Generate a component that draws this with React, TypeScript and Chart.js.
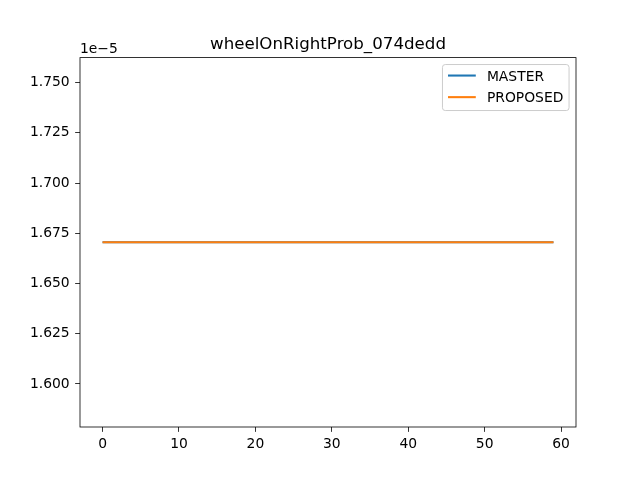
import { useEffect, useRef } from "react";
import { Chart, registerables } from "chart.js";

Chart.register(...registerables);

const titleText = "wheelOnRightProb_074dedd";
const offsetText = "1e\u22125";
const offsetScale = 1e-5;

const xValues = [
  0, 1, 2, 3, 4, 5, 6, 7, 8, 9, 10, 11, 12, 13, 14, 15, 16, 17, 18, 19,
  20, 21, 22, 23, 24, 25, 26, 27, 28, 29, 30, 31, 32, 33, 34, 35, 36, 37, 38, 39,
  40, 41, 42, 43, 44, 45, 46, 47, 48, 49, 50, 51, 52, 53, 54, 55, 56, 57, 58, 59,
];

const masterValues = [
  1.6705e-5, 1.6705e-5, 1.6705e-5, 1.6705e-5, 1.6705e-5, 1.6705e-5, 1.6705e-5, 1.6705e-5, 1.6705e-5, 1.6705e-5,
  1.6705e-5, 1.6705e-5, 1.6705e-5, 1.6705e-5, 1.6705e-5, 1.6705e-5, 1.6705e-5, 1.6705e-5, 1.6705e-5, 1.6705e-5,
  1.6705e-5, 1.6705e-5, 1.6705e-5, 1.6705e-5, 1.6705e-5, 1.6705e-5, 1.6705e-5, 1.6705e-5, 1.6705e-5, 1.6705e-5,
  1.6705e-5, 1.6705e-5, 1.6705e-5, 1.6705e-5, 1.6705e-5, 1.6705e-5, 1.6705e-5, 1.6705e-5, 1.6705e-5, 1.6705e-5,
  1.6705e-5, 1.6705e-5, 1.6705e-5, 1.6705e-5, 1.6705e-5, 1.6705e-5, 1.6705e-5, 1.6705e-5, 1.6705e-5, 1.6705e-5,
  1.6705e-5, 1.6705e-5, 1.6705e-5, 1.6705e-5, 1.6705e-5, 1.6705e-5, 1.6705e-5, 1.6705e-5, 1.6705e-5, 1.6705e-5,
];

const proposedValues = [
  1.6705e-5, 1.6705e-5, 1.6705e-5, 1.6705e-5, 1.6705e-5, 1.6705e-5, 1.6705e-5, 1.6705e-5, 1.6705e-5, 1.6705e-5,
  1.6705e-5, 1.6705e-5, 1.6705e-5, 1.6705e-5, 1.6705e-5, 1.6705e-5, 1.6705e-5, 1.6705e-5, 1.6705e-5, 1.6705e-5,
  1.6705e-5, 1.6705e-5, 1.6705e-5, 1.6705e-5, 1.6705e-5, 1.6705e-5, 1.6705e-5, 1.6705e-5, 1.6705e-5, 1.6705e-5,
  1.6705e-5, 1.6705e-5, 1.6705e-5, 1.6705e-5, 1.6705e-5, 1.6705e-5, 1.6705e-5, 1.6705e-5, 1.6705e-5, 1.6705e-5,
  1.6705e-5, 1.6705e-5, 1.6705e-5, 1.6705e-5, 1.6705e-5, 1.6705e-5, 1.6705e-5, 1.6705e-5, 1.6705e-5, 1.6705e-5,
  1.6705e-5, 1.6705e-5, 1.6705e-5, 1.6705e-5, 1.6705e-5, 1.6705e-5, 1.6705e-5, 1.6705e-5, 1.6705e-5, 1.6705e-5,
];

const seriesLabels = ["MASTER", "PROPOSED"];
const seriesColors = ["#1f77b4", "#ff7f0e"];

const xTicks = [0, 10, 20, 30, 40, 50, 60];
const yTicks = [1.6, 1.625, 1.65, 1.675, 1.7, 1.725, 1.75];

const FONT = "DejaVu Sans";
const TICK_SIZE = 13.89;

const decorPlugin = {
  id: "decor",
  afterDraw(chart: any) {
    const ctx = chart.ctx as CanvasRenderingContext2D;
    const a = chart.chartArea;
    ctx.save();
    // frame (spines)
    ctx.strokeStyle = "#000";
    ctx.lineWidth = 0.8;
    ctx.strokeRect(a.left, a.top, a.right - a.left, a.bottom - a.top);

    // title
    ctx.fillStyle = "#000";
    ctx.font = `16.67px "${FONT}"`;
    ctx.textAlign = "center";
    ctx.textBaseline = "alphabetic";
    ctx.fillText(titleText, (a.left + a.right) / 2, a.top - 8.4);

    // offset text
    ctx.font = `${TICK_SIZE}px "${FONT}"`;
    ctx.textAlign = "left";
    ctx.fillText(offsetText, a.left, a.top - 5);

    // legend
    const fs = TICK_SIZE;
    const boxRight = a.right - 0.5 * fs;
    const boxTop = a.top + 0.5 * fs;
    const boxW = 126.6;
    const boxH = 46;
    const boxLeft = boxRight - boxW;
    ctx.beginPath();
    ctx.roundRect(boxLeft, boxTop, boxW, boxH, 2.8);
    ctx.fillStyle = "rgba(255,255,255,0.8)";
    ctx.fill();
    ctx.strokeStyle = "#cccccc";
    ctx.lineWidth = 1;
    ctx.stroke();

    const datasets = chart.data.datasets;
    const handleX0 = boxLeft + 0.4 * fs;
    const handleX1 = handleX0 + 2.0 * fs;
    const textX = handleX1 + 0.8 * fs;
    const rowY0 = boxTop + 11;
    const rowStep = 21.6;
    datasets.forEach((ds: any, i: number) => {
      const y = rowY0 + i * rowStep;
      ctx.beginPath();
      ctx.strokeStyle = ds.borderColor;
      ctx.lineWidth = 2.08;
      ctx.moveTo(handleX0, y);
      ctx.lineTo(handleX1, y);
      ctx.stroke();
      ctx.fillStyle = "#000";
      ctx.font = `${fs}px "${FONT}"`;
      ctx.textAlign = "left";
      ctx.textBaseline = "alphabetic";
      ctx.fillText(ds.label, textX, y + 5.2);
    });
    ctx.restore();
  },
};

export default function App() {
  const canvasRef = useRef<HTMLCanvasElement | null>(null);

  useEffect(() => {
    document.body.style.margin = "0";
    const canvas = canvasRef.current;
    if (!canvas) return;
    const chart = new Chart(canvas, {
      type: "line",
      data: {
        datasets: [
          {
            label: seriesLabels[0],
            data: xValues.map((x, i) => ({ x, y: masterValues[i] })),
            borderColor: seriesColors[0],
            backgroundColor: seriesColors[0],
            borderWidth: 2.08,
            pointRadius: 0,
            tension: 0,
            fill: false,
            order: 1,
          },
          {
            label: seriesLabels[1],
            data: xValues.map((x, i) => ({ x, y: proposedValues[i] })),
            borderColor: seriesColors[1],
            backgroundColor: seriesColors[1],
            borderWidth: 2.08,
            pointRadius: 0,
            tension: 0,
            fill: false,
            order: 0,
          },
        ],
      },
      options: {
        animation: false,
        responsive: false,
        devicePixelRatio: 1,
        layout: { padding: { left: 0, right: 64, top: 57.6, bottom: 0 } },
        plugins: {
          legend: { display: false },
          title: { display: false },
          tooltip: { enabled: false },
        },
        scales: {
          x: {
            type: "linear",
            min: -2.95,
            max: 61.95,
            afterBuildTicks: (s: any) => {
              s.ticks = xTicks.map((v) => ({ value: v }));
            },
            afterFit: (s: any) => {
              s.height = 53;
            },
            grid: {
              display: true,
              drawOnChartArea: false,
              drawTicks: true,
              tickLength: 4.86,
              tickWidth: 0.8,
              tickColor: "#000",
            },
            border: { display: false },
            ticks: {
              color: "#000",
              font: { family: FONT, size: TICK_SIZE },
              padding: 4,
              maxRotation: 0,
              autoSkip: false,
              callback: (v: any) => String(v),
            },
          },
          y: {
            type: "linear",
            min: 1.5786e-5,
            max: 1.7624e-5,
            afterBuildTicks: (s: any) => {
              s.ticks = yTicks.map((v) => ({ value: v * offsetScale }));
            },
            afterFit: (s: any) => {
              s.width = 80;
            },
            grid: {
              display: true,
              drawOnChartArea: false,
              drawTicks: true,
              tickLength: 4.86,
              tickWidth: 0.8,
              tickColor: "#000",
            },
            border: { display: false },
            ticks: {
              color: "#000",
              font: { family: FONT, size: TICK_SIZE },
              padding: 5.5,
              autoSkip: false,
              callback: (v: any) => (Number(v) / offsetScale).toFixed(3),
            },
          },
        },
      },
      plugins: [decorPlugin],
    });
    return () => chart.destroy();
  }, []);

  return (
    <div style={{ position: "absolute", left: 0, top: 0, width: 640, height: 480, background: "#fff" }}>
      <canvas ref={canvasRef} width={640} height={480} style={{ display: "block" }} />
    </div>
  );
}
